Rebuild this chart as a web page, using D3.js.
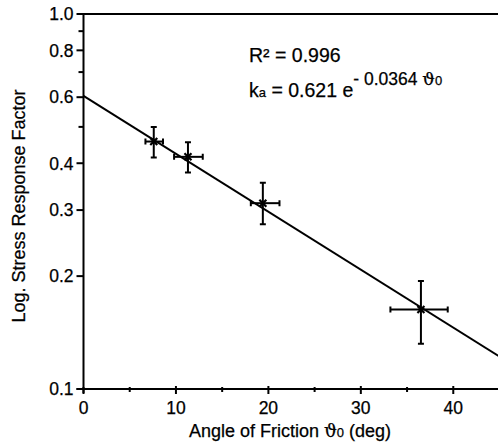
<!DOCTYPE html>
<html>
<head>
<meta charset="utf-8">
<script src="https://cdn.jsdelivr.net/npm/d3@7"></script>
<style>
  body { margin: 0; background: #fff; }
  svg { display: block; font-family: "Liberation Sans", Arial, sans-serif; }
  svg text { fill: #000; stroke: #000; stroke-width: 0.25; }
  .axis path, .axis line { stroke: #000; stroke-width: 2; }
  .tick-label { font-size: 17.5px; }
</style>
</head>
<body>
<div id="chart"></div>
<script>
// data
const angle = [7.6, 11.3, 19.4, 36.5];
const angleLo = [6.7, 9.8, 18.1, 33.2];
const angleHi = [8.6, 12.9, 21.2, 39.4];
const factor = [0.457, 0.416, 0.313, 0.163];
const factorLo = [0.414, 0.378, 0.275, 0.132];
const factorHi = [0.500, 0.455, 0.355, 0.194];

// fitted line endpoints (k = 0.621 e^-0.0364 theta)
const fitAngle = [0, 45];
const fitFactor = [0.605, 0.122];

const yTicks = [1.0, 0.9, 0.8, 0.7, 0.6, 0.5, 0.4, 0.3, 0.2, 0.1];
const yLabels = [1.0, 0.8, 0.6, 0.4, 0.3, 0.2, 0.1];
const xTicks = [0, 5, 10, 15, 20, 25, 30, 35, 40, 45];
const xLabels = [0, 10, 20, 30, 40];

const WIDTH = 498;
const HEIGHT = 442;
const LEFT = 83.5;
const TOP = 14;
const BOTTOM = 389;
const RIGHT = 499.5;

const $svg = d3.select('#chart').append('svg')
  .attr('width', WIDTH)
  .attr('height', HEIGHT);

const x = d3.scaleLinear().domain([0, 45]).range([LEFT, RIGHT]);
const y = d3.scaleLog().domain([0.1, 1]).range([BOTTOM, TOP]);

// top frame line
$svg.append('line')
  .attr('x1', LEFT).attr('x2', WIDTH)
  .attr('y1', y(1)).attr('y2', y(1))
  .attr('stroke', '#000').attr('stroke-width', 2);

// y axis
const $yAxis = $svg.append('g').attr('class', 'axis');
$yAxis.append('line')
  .attr('x1', LEFT).attr('x2', LEFT)
  .attr('y1', y(1) - 1).attr('y2', BOTTOM + 4);
$yAxis.selectAll('.ytick').data(yTicks).join('line')
  .attr('class', 'ytick')
  .attr('x1', d => LEFT - (yLabels.includes(d) ? 7 : 5))
  .attr('x2', LEFT)
  .attr('y1', d => y(d)).attr('y2', d => y(d));
$yAxis.selectAll('.ylabel').data(yLabels).join('text')
  .attr('class', 'tick-label ylabel')
  .attr('x', LEFT - 10)
  .attr('y', d => y(d))
  .attr('dy', '0.36em')
  .attr('text-anchor', 'end')
  .text(d3.format('.1f'));

// x axis
const $xAxis = $svg.append('g').attr('class', 'axis');
$xAxis.append('line')
  .attr('x1', LEFT - 7).attr('x2', WIDTH)
  .attr('y1', BOTTOM).attr('y2', BOTTOM);
$xAxis.selectAll('.xtick').data(xTicks).join('line')
  .attr('class', 'xtick')
  .attr('x1', d => x(d)).attr('x2', d => x(d))
  .attr('y1', d => BOTTOM - (d % 10 === 0 && d > 0 ? 3 : 2))
  .attr('y2', d => BOTTOM + (d % 10 === 0 ? 5 : 3));
$xAxis.selectAll('.xlabel').data(xLabels).join('text')
  .attr('class', 'tick-label xlabel')
  .attr('x', d => x(d))
  .attr('y', BOTTOM + 25)
  .attr('text-anchor', 'middle')
  .text(d => d);

// axis titles
$svg.append('text')
  .attr('transform', `translate(25, 206) rotate(-90)`)
  .attr('text-anchor', 'middle')
  .attr('font-size', 18)
  .text('Log. Stress Response Factor');

const $xTitle = $svg.append('text')
  .attr('x', 290)
  .attr('y', 437)
  .attr('text-anchor', 'middle')
  .attr('font-size', 18);
$xTitle.append('tspan').text('Angle of Friction ');
$xTitle.append('tspan').attr('font-family', '"DejaVu Serif", serif').text('ϑ');
$xTitle.append('tspan').attr('font-size', 13).text('0');
$xTitle.append('tspan').text(' (deg)');

// fit line
const line = d3.line()
  .x(d => x(d[0]))
  .y(d => y(d[1]));
$svg.append('path')
  .datum(d3.zip(fitAngle, fitFactor))
  .attr('d', line)
  .attr('fill', 'none')
  .attr('stroke', '#000')
  .attr('stroke-width', 2);

// error bars + markers
const points = angle.map((a, i) => ({
  a, lo: angleLo[i], hi: angleHi[i],
  f: factor[i], flo: factorLo[i], fhi: factorHi[i]
}));
const CAP = 3;
const $pts = $svg.append('g')
  .attr('stroke', '#000')
  .attr('stroke-width', 2)
  .attr('fill', 'none');
const $p = $pts.selectAll('g').data(points).join('g');
$p.append('line')
  .attr('x1', d => x(d.a)).attr('x2', d => x(d.a))
  .attr('y1', d => y(d.fhi)).attr('y2', d => y(d.flo));
$p.append('line')
  .attr('x1', d => x(d.lo)).attr('x2', d => x(d.hi))
  .attr('y1', d => y(d.f)).attr('y2', d => y(d.f));
// caps
$p.append('path')
  .attr('d', d => `M${x(d.a) - CAP},${y(d.fhi)}H${x(d.a) + CAP}M${x(d.a) - CAP},${y(d.flo)}H${x(d.a) + CAP}` +
    `M${x(d.lo)},${y(d.f) - CAP}V${y(d.f) + CAP}M${x(d.hi)},${y(d.f) - CAP}V${y(d.f) + CAP}`);
// x markers
$p.append('path')
  .attr('stroke-width', 2.2)
  .attr('d', d => {
    const cx = x(d.a), cy = y(d.f), s = 3.5;
    return `M${cx - s},${cy - s}L${cx + s},${cy + s}M${cx - s},${cy + s}L${cx + s},${cy - s}`;
  });

// annotations
$svg.append('text')
  .attr('x', 249)
  .attr('y', 62)
  .attr('font-size', 19.5)
  .text('R² = 0.996');

const $eq = $svg.append('text')
  .attr('x', 249)
  .attr('y', 97)
  .attr('font-size', 19.5);
$eq.append('tspan').text('k');
$eq.append('tspan').attr('font-size', 13).text('a');
$eq.append('tspan').text(' = 0.621 e');
$eq.append('tspan').attr('dy', -12).attr('font-size', 17.5).text('- 0.0364 ');
$eq.append('tspan').attr('font-size', 17.5).attr('font-family', '"DejaVu Serif", serif').text('ϑ');
$eq.append('tspan').attr('font-size', 13).text('0');
</script>
</body>
</html>
